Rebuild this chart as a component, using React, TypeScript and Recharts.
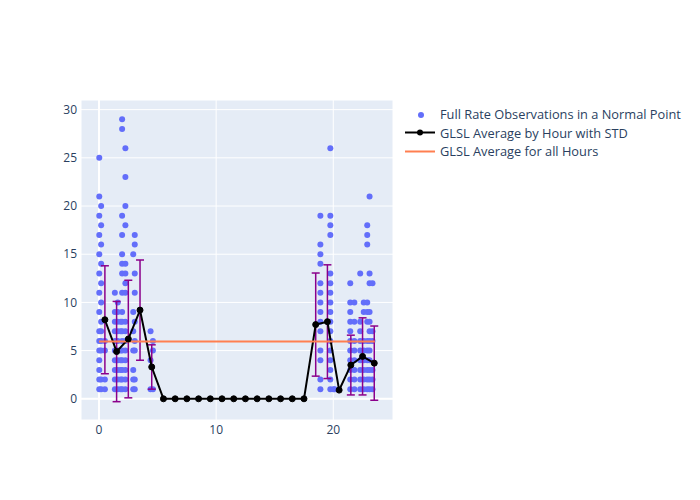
import { CartesianGrid, ComposedChart, ErrorBar, Line, ReferenceLine, Scatter, XAxis, YAxis } from 'recharts';

// observations: [x position (hour of day), values at that x]
const obsColumns: [number, number[]][] = [
  [0.02, [25, 21, 19, 17, 15, 13, 11, 9, 7, 6, 5, 4, 3, 2, 1]],
  [0.18, [20, 18, 16, 14, 12, 10, 8, 7, 6, 5, 2, 1]],
  [0.5, [6, 5, 2, 1]],
  [1.35, [11, 9, 8, 7, 6, 5, 4, 3, 2, 1]],
  [1.6, [10, 9, 8, 7, 6, 5, 4, 3, 2, 1]],
  [1.85, [8, 7, 5, 4, 3, 2, 1]],
  [1.97, [29, 28, 19, 17, 15, 14, 13, 11, 9, 8, 7, 6, 5, 4, 3, 2, 1]],
  [2.25, [26, 23, 20, 18, 14, 13, 12, 11, 8, 7, 6, 5, 4, 3, 2, 1]],
  [2.92, [15, 9, 7, 5, 3, 2, 1]],
  [3.05, [17, 16, 13, 11, 8, 6, 5, 2, 1]],
  [4.4, [7, 4, 1]],
  [4.6, [6, 5, 1]],
  [18.9, [19, 16, 15, 14, 12, 11, 10, 9, 8, 7, 5, 4, 2, 1]],
  [19.75, [26, 19, 18, 17, 13, 12, 11, 10, 9, 8, 7, 6, 5, 4, 3, 2, 1]],
  [20.02, [1]],
  [20.12, [1]],
  [21.45, [12, 10, 9, 8, 7, 6, 5, 4, 3, 2, 1]],
  [21.8, [10, 8, 6, 5, 4, 3, 2, 1]],
  [22.3, [13, 8, 7, 6, 5, 4, 3, 2, 1]],
  [22.6, [10, 9, 6, 5, 4, 3, 2, 1]],
  [22.9, [18, 17, 16, 10, 9, 8, 6, 5, 4, 3, 2, 1]],
  [23.1, [21, 13, 12, 9, 8, 7, 6, 5, 4, 3, 2, 1]],
  [23.35, [12, 7, 6, 3, 2, 1]],
];

const avgHours = [0.5, 1.5, 2.5, 3.5, 4.5, 5.5, 6.5, 7.5, 8.5, 9.5, 10.5, 11.5, 12.5, 13.5, 14.5, 15.5, 16.5, 17.5, 18.5, 19.5, 20.5, 21.5, 22.5, 23.5];
const avgValues = [8.2, 4.9, 6.2, 9.2, 3.3, 0, 0, 0, 0, 0, 0, 0, 0, 0, 0, 0, 0, 0, 7.7, 8.0, 0.9, 3.5, 4.4, 3.7];
const avgStd = [5.6, 5.2, 6.1, 5.2, 2.3, 0, 0, 0, 0, 0, 0, 0, 0, 0, 0, 0, 0, 0, 5.35, 5.9, 0, 3.1, 4.0, 3.85];

const overallAvg = 5.95;
const overallSpan = [0, 23.55];

const xTicks = [0, 10, 20];
const yTicks = [0, 5, 10, 15, 20, 25, 30];

const obsData = obsColumns.flatMap(([x, ys]) => ys.map((y) => ({ x, y })));
const avgData = avgHours.map((x, i) => ({ x, avg: avgValues[i], std: avgStd[i] }));
const overallData = overallSpan.map((x) => ({ x, all: overallAvg }));

const FONT = '"Open Sans", sans-serif';
const TEXT = '#2a3f5f';
const tick = { fontSize: 12, fill: TEXT, fontFamily: FONT };

function Legend() {
  const row = { display: 'flex', alignItems: 'center', height: 18.5 } as const;
  return (
    <div style={{ position: 'absolute', left: 405, top: 105, fontFamily: FONT, fontSize: 12.8, color: TEXT, whiteSpace: 'nowrap' }}>
      <div style={row}>
        <svg width={35} height={19}><circle cx={16} cy={10} r={3} fill="#636efa" /></svg>
        <span>Full Rate Observations in a Normal Point</span>
      </div>
      <div style={row}>
        <svg width={35} height={19}>
          <line x1={0} x2={30} y1={9.5} y2={9.5} stroke="#000" strokeWidth={2} />
          <circle cx={15} cy={9.5} r={3} fill="#000" />
        </svg>
        <span>GLSL Average by Hour with STD</span>
      </div>
      <div style={row}>
        <svg width={35} height={19}><line x1={0} x2={30} y1={9.5} y2={9.5} stroke="#ff7f50" strokeWidth={2} /></svg>
        <span>GLSL Average for all Hours</span>
      </div>
    </div>
  );
}

export default function App() {
  return (
    <div style={{ position: 'absolute', left: 0, top: 0, width: 700, height: 500, background: '#fff' }}>
      <ComposedChart width={700} height={500} margin={{ top: 100, right: 307, bottom: 0, left: 0 }}>
        <CartesianGrid fill="#e5ecf6" stroke="#fff" strokeWidth={1} />
        <XAxis type="number" dataKey="x" domain={[-1.54, 25.1]} ticks={xTicks} allowDataOverflow height={80}
          axisLine={false} tickLine={false} tickSize={0} tickMargin={5} tick={tick} />
        <YAxis type="number" domain={[-2.2, 31]} ticks={yTicks} allowDataOverflow width={81}
          axisLine={false} tickLine={false} tickSize={0} tickMargin={4} tick={tick} />
        <ReferenceLine x={0} stroke="#fff" strokeWidth={2} zIndex={-50} />
        <ReferenceLine y={0} stroke="#fff" strokeWidth={2} zIndex={-50} />
        <Scatter data={obsData} dataKey="y" isAnimationActive={false} zIndex={100}
          shape={(p: any) => <circle cx={p.cx} cy={p.cy} r={3} fill="#636efa" />} />
        <Line data={avgData} dataKey="avg" stroke="#000" strokeWidth={2} isAnimationActive={false} zIndex={400}
          dot={{ r: 3, fill: '#000', stroke: '#000', strokeWidth: 1 }}>
          <ErrorBar dataKey="std" direction="y" width={4} stroke="#8b008b" strokeWidth={1.5} />
        </Line>
        <Line data={overallData} dataKey="all" stroke="#ff7f50" strokeWidth={2} dot={false} isAnimationActive={false} zIndex={450} />
      </ComposedChart>
      <Legend />
    </div>
  );
}
